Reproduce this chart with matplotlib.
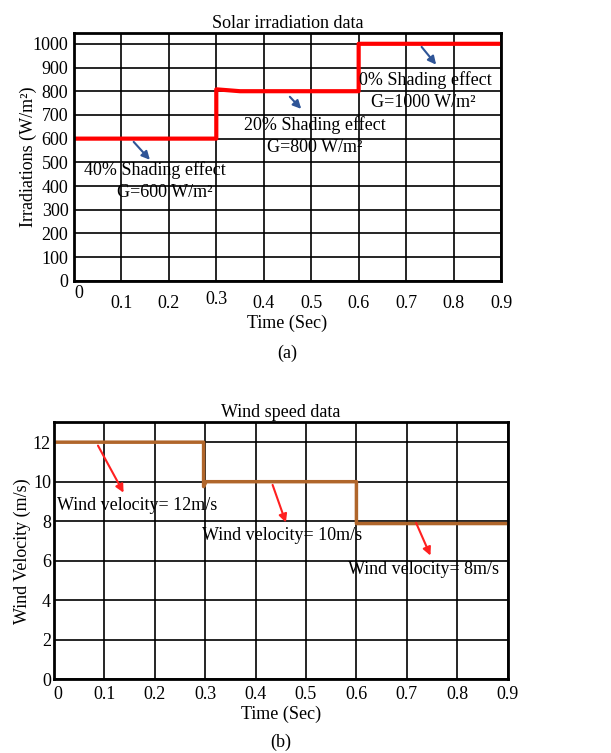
import matplotlib
matplotlib.use("Agg")
import matplotlib.pyplot as plt

plt.rcParams['font.family'] = ['Liberation Serif', 'DejaVu Serif']

# ----------- Data -----------
solar_time = [0, 0.3, 0.3, 0.35, 0.6, 0.6, 0.9]
solar_irr = [600, 600, 808, 800, 800, 1000, 1000]

wind_time = [0, 0.297, 0.297, 0.302, 0.6, 0.6, 0.9]
wind_speed = [12, 12, 9.75, 10, 10, 7.88, 7.88]

x_ticks = [0, 0.1, 0.2, 0.3, 0.4, 0.5, 0.6, 0.7, 0.8, 0.9]
solar_yticks = [0, 100, 200, 300, 400, 500, 600, 700, 800, 900, 1000]
wind_yticks = [0, 2, 4, 6, 8, 10, 12]

solar_notes = [
    ("40% Shading effect", "G=600 W/m²", (0.122, 595), (0.164, 502), (0.171, 468), (0.192, 371)),
    ("20% Shading effect", "G=800 W/m²", (0.451, 785), (0.483, 717), (0.508, 658), (0.508, 561)),
    ("0% Shading effect", "G=1000 W/m²", (0.729, 996), (0.767, 903), (0.740, 848), (0.736, 751)),
]
wind_notes = [
    ("Wind velocity= 12m/s", (0.085, 11.95), (0.141, 9.32), (0.165, 8.81)),
    ("Wind velocity= 10m/s", (0.432, 9.97), (0.462, 7.80), (0.452, 7.29)),
    ("Wind velocity= 8m/s", (0.716, 8.05), (0.749, 6.13), (0.733, 5.57)),
]

FS = 13


def style_axes(ax):
    ax.grid(True, color='black', linewidth=1.2)
    ax.tick_params(length=0, labelsize=FS)
    for s in ax.spines.values():
        s.set_linewidth(2)
        s.set_color('black')
    ax.set_axisbelow(True)


fig = plt.figure(figsize=(6.11, 7.53), dpi=100)

# ----------- (a) Solar -----------
ax1 = fig.add_axes([0.121, 0.627, 0.699, 0.329])
ax1.plot(solar_time, solar_irr, color='#ff0000', linewidth=3)
ax1.set_xlim(0, 0.9)
ax1.set_ylim(0, 1045)
ax1.set_xticks(x_ticks)
ax1.set_xticklabels([str(v) for v in x_ticks])
ax1.set_yticks(solar_yticks)
style_axes(ax1)
ax1.tick_params(axis='x', pad=10)
ax1.tick_params(axis='y', pad=4)
xt = ax1.xaxis.get_major_ticks()
xt[0].set_pad(3)
xt[0].label1.set_horizontalalignment('left')
xt[3].set_pad(7)
ax1.set_title("Solar irradiation data", fontsize=FS, pad=4)
ax1.set_xlabel("Time (Sec)", fontsize=FS, labelpad=2)
ax1.set_ylabel("Irradiations (W/m²)", fontsize=FS, labelpad=-3)
for top, bottom, start, end, tpos, gpos in solar_notes:
    ax1.annotate("", xy=end, xytext=start,
                 arrowprops=dict(arrowstyle='-|>', color='#2f5597', lw=1.5, mutation_scale=12))
    ax1.text(tpos[0], tpos[1], top, ha='center', va='center', fontsize=FS)
    ax1.text(gpos[0], gpos[1], bottom, ha='center', va='center', fontsize=FS)
fig.text(0.121 + 0.699 / 2, 1 - 353 / 753, "(a)", ha='center', va='center', fontsize=FS)

# ----------- (b) Wind -----------
ax2 = fig.add_axes([0.088, 0.098, 0.743, 0.341])
ax2.plot(wind_time, wind_speed, color='#b0662b', linewidth=2.5)
ax2.set_xlim(0, 0.9)
ax2.set_ylim(0, 13)
ax2.set_xticks(x_ticks)
ax2.set_xticklabels([str(v) for v in x_ticks])
ax2.set_yticks(wind_yticks)
style_axes(ax2)
ax2.tick_params(axis='x', pad=5)
ax2.tick_params(axis='y', pad=2)
ax2.xaxis.get_major_ticks()[0].label1.set_horizontalalignment('left')
ax2.set_title("Wind speed data", fontsize=FS, pad=4)
ax2.set_xlabel("Time (Sec)", fontsize=FS, labelpad=2)
ax2.set_ylabel("Wind Velocity (m/s)", fontsize=FS, labelpad=1)
for label, start, end, tpos in wind_notes:
    ax2.annotate("", xy=end, xytext=start,
                 arrowprops=dict(arrowstyle='-|>', color='#ff2020', lw=1.5, mutation_scale=12))
    ax2.text(tpos[0], tpos[1], label, ha='center', va='center', fontsize=FS)
fig.text(0.088 + 0.743 / 2, 1 - 742 / 753, "(b)", ha='center', va='center', fontsize=FS)

fig.savefig("out.png", dpi=100)
